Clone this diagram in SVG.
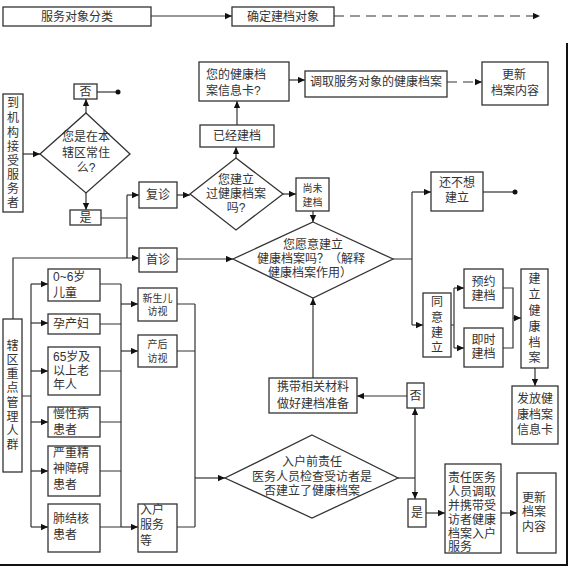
<svg xmlns="http://www.w3.org/2000/svg" width="571" height="568" viewBox="0 0 571 568">
<defs>
<marker id="ah" viewBox="0 0 10 10" refX="10" refY="5" markerWidth="7" markerHeight="7" markerUnits="userSpaceOnUse" orient="auto"><path d="M0,0.5 L10,5 L0,9.5 z" fill="#111"/></marker>
<style>
.b{fill:#fff;stroke:#333;stroke-width:1.3}
.t{font-family:"Liberation Sans","Noto Sans CJK SC",sans-serif;font-size:12px;fill:#333}
.s{font-size:10px}
.m{text-anchor:middle}
.c{fill:none;stroke:#333;stroke-width:1.2}
.a{marker-end:url(#ah)}
.d{stroke-dasharray:10 6}
</style>
</defs>
<rect width="571" height="568" fill="#fff"/>
<g id="frame"><path d="M567,43 V565 H0" fill="none" stroke="#111" stroke-width="2"/></g>
<g id="connectors">
<path class="c a" d="M151,16 H232"/>
<path class="c a d" d="M334,16 H540"/>
<path class="c a" d="M289,80 H305"/>
<path class="c a d" d="M447,82 H482"/>
<path class="c a" d="M237,125 V101"/>
<path class="c a" d="M236,158 V147"/>
<path class="c" d="M97,92 H118"/>
<circle cx="118" cy="92" r="2.5" fill="#111"/>
<path class="c a" d="M86,113 V99"/>
<path class="c a" d="M23,154 H40"/>
<path class="c a" d="M86,193 V210"/>
<path class="c" d="M101,218 H127 M127,195 V258"/>
<path class="c a" d="M127,195 H139"/>
<path class="c a" d="M13,319 V258 H139"/>
<path class="c a" d="M177,195 H190"/>
<path class="c a" d="M283,194 H296"/>
<path class="c a" d="M313,211 V222"/>
<path class="c a" d="M177,259 H233"/>
<path class="c" d="M393,259 H412 M412,192 V325"/>
<path class="c a" d="M412,192 H431"/>
<path class="c a" d="M412,325 H423"/>
<path class="c" d="M483,192 H515"/>
<circle cx="515" cy="192" r="2.5" fill="#111"/>
<path class="c" d="M451,325 H454 M454,288 V348"/>
<path class="c a" d="M454,288 H464"/>
<path class="c a" d="M454,348 H464"/>
<path class="c" d="M503,288 H513 V348 H503"/>
<path class="c a" d="M513,318 H521"/>
<path class="c a" d="M535,368 V386"/>
<path class="c a" d="M407,396 H357"/>
<path class="c a" d="M313,378 V298"/>
<path class="c" d="M398,478 H415"/>
<path class="c a" d="M415,478 V408"/>
<path class="c a" d="M415,478 V499"/>
<path class="c a" d="M426,513 H445"/>
<path class="c a" d="M501,513 H517"/>
<path class="c" d="M22,396 H31 M31,284 V527"/>
<path class="c a" d="M31,284 H48"/>
<path class="c a" d="M31,323 H48"/>
<path class="c a" d="M31,371 H48"/>
<path class="c a" d="M31,422 H48"/>
<path class="c a" d="M31,471 H48"/>
<path class="c a" d="M31,527 H48"/>
<path class="c" d="M100,284 H121 M100,324 H121 M100,371 H121 M100,422 H121 M100,471 H121 M100,527 H121 M121,284 V527"/>
<path class="c a" d="M121,304 H138"/>
<path class="c a" d="M121,351 H138"/>
<path class="c a" d="M121,527 H138"/>
<path class="c" d="M177,304 H195 M177,351 H195 M177,527 H195 M195,304 V527"/>
<path class="c a" d="M195,478 H225"/>
</g>
<g id="n_classify"><rect class="b" x="3" y="7" width="148" height="19"/><text class="t m" x="77" y="21">服务对象分类</text></g>
<g id="n_target"><rect class="b" x="232" y="7" width="102" height="19"/><text class="t m" x="283" y="21">确定建档对象</text></g>
<g id="n_card"><rect class="b" x="199" y="62" width="90" height="39"/><text class="t" x="206" y="79">您的健康档</text><text class="t" x="206" y="95">案信息卡?</text></g>
<g id="n_fetch"><rect class="b" x="305" y="71" width="142" height="26"/><text class="t m" x="376" y="86">调取服务对象的健康档案</text></g>
<g id="n_update1"><rect class="b" x="482" y="62" width="66" height="43"/><text class="t m" x="514" y="79">更新</text><text class="t m" x="515" y="95">档案内容</text></g>
<g id="n_no1"><rect class="b" x="74" y="84" width="23" height="15"/><text class="t m" x="85.5" y="96">否</text></g>
<g id="n_arrive"><rect class="b" x="3" y="94" width="20" height="118"/>
<text class="t m" x="13" y="107">到</text><text class="t m" x="13" y="122">机</text><text class="t m" x="13" y="137">构</text><text class="t m" x="13" y="151">接</text><text class="t m" x="13" y="165">受</text><text class="t m" x="13" y="179">服</text><text class="t m" x="13" y="193">务</text><text class="t m" x="13" y="207">者</text></g>
<g id="d_resident"><polygon class="b" points="86,113 130,154 86,193 40,154"/><text class="t m" x="86" y="141">您是在本</text><text class="t m" x="86" y="157">辖区常住</text><text class="t m" x="86" y="172">么?</text></g>
<g id="n_yes1"><rect class="b" x="70" y="210" width="31" height="15"/><text class="t m" x="85.5" y="222">是</text></g>
<g id="n_revisit"><rect class="b" x="139" y="182" width="38" height="26"/><text class="t m" x="158" y="199">复诊</text></g>
<g id="n_first"><rect class="b" x="139" y="248" width="38" height="24"/><text class="t m" x="158" y="264">首诊</text></g>
<g id="n_existed"><rect class="b" x="200" y="125" width="74" height="22"/><text class="t m" x="237" y="140">已经建档</text></g>
<g id="d_has"><polygon class="b" points="236,158 283,194 236,230 190,194"/><text class="t m" x="236" y="184">您建立</text><text class="t m" x="236" y="198">过健康档案</text><text class="t m" x="236" y="212">吗?</text></g>
<g id="n_notyet"><rect class="b" x="296" y="178" width="33" height="33"/><text class="t s m" x="312.5" y="192">尚未</text><text class="t s m" x="312.5" y="206">建档</text></g>
<g id="d_willing"><polygon class="b" points="313,222 393,259 313,298 233,259"/><text class="t m" x="313" y="249">您愿意建立</text><text class="t m" x="311" y="263">健康档案吗？（解释</text><text class="t m" x="310" y="277">健康档案作用）</text></g>
<g id="n_notwant"><rect class="b" x="431" y="172" width="52" height="39"/><text class="t m" x="457" y="187">还不想</text><text class="t m" x="457" y="202">建立</text></g>
<g id="n_agree"><rect class="b" x="423" y="293" width="28" height="64"/><text class="t m" x="437" y="306">同</text><text class="t m" x="437" y="322">意</text><text class="t m" x="437" y="337">建</text><text class="t m" x="437" y="352">立</text></g>
<g id="n_appoint"><rect class="b" x="464" y="269" width="39" height="39"/><text class="t m" x="483.5" y="286">预约</text><text class="t m" x="483.5" y="300">建档</text></g>
<g id="n_now"><rect class="b" x="464" y="328" width="39" height="39"/><text class="t m" x="483.5" y="344">即时</text><text class="t m" x="483.5" y="358">建档</text></g>
<g id="n_build"><rect class="b" x="521" y="269" width="27" height="99"/><text class="t m" x="534.5" y="283">建</text><text class="t m" x="534.5" y="299">立</text><text class="t m" x="534.5" y="315">健</text><text class="t m" x="534.5" y="331">康</text><text class="t m" x="534.5" y="347">档</text><text class="t m" x="534.5" y="362">案</text></g>
<g id="n_issue"><rect class="b" x="512" y="386" width="46" height="58"/><text class="t m" x="535" y="403">发放健</text><text class="t m" x="535" y="419">康档案</text><text class="t m" x="535" y="434">信息卡</text></g>
<g id="n_no2"><rect class="b" x="407" y="383" width="17" height="25"/><text class="t m" x="415.5" y="400">否</text></g>
<g id="n_prepare"><rect class="b" x="269" y="378" width="88" height="35"/><text class="t m" x="313" y="391">携带相关材料</text><text class="t m" x="313" y="408">做好建档准备</text></g>
<g id="d_check"><polygon class="b" points="312,435 398,478 312,518 225,478"/><text class="t m" x="312" y="466">入户前责任</text><text class="t m" x="312" y="481">医务人员检查受访者是</text><text class="t m" x="312" y="495">否建立了健康档案</text></g>
<g id="n_yes2"><rect class="b" x="408" y="499" width="18" height="28"/><text class="t m" x="417" y="517">是</text></g>
<g id="n_visitfetch"><rect class="b" x="445" y="464" width="56" height="89"/><text class="t" x="448" y="482">责任医务</text><text class="t" x="448" y="496">人员调取</text><text class="t" x="448" y="510">并携带受</text><text class="t" x="448" y="524">访者健康</text><text class="t" x="448" y="538">档案入户</text><text class="t" x="448" y="551">服务</text></g>
<g id="n_update2"><rect class="b" x="517" y="473" width="39" height="80"/><text class="t" x="522" y="502">更新</text><text class="t" x="522" y="516">档案</text><text class="t" x="522" y="531">内容</text></g>
<g id="n_keygroup"><rect class="b" x="3" y="319" width="19" height="153"/>
<text class="t m" x="12.5" y="350">辖</text><text class="t m" x="12.5" y="364">区</text><text class="t m" x="12.5" y="378">重</text><text class="t m" x="12.5" y="392">点</text><text class="t m" x="12.5" y="407">管</text><text class="t m" x="12.5" y="421">理</text><text class="t m" x="12.5" y="435">人</text><text class="t m" x="12.5" y="449">群</text></g>
<g id="n_child"><rect class="b" x="48" y="269" width="52" height="32"/><text class="t" x="53" y="281">0~6岁</text><text class="t" x="53" y="297">儿童</text></g>
<g id="n_maternal"><rect class="b" x="48" y="314" width="52" height="20"/><text class="t" x="53" y="328">孕产妇</text></g>
<g id="n_elderly"><rect class="b" x="48" y="347" width="52" height="48"/><text class="t" x="53" y="361">65岁及</text><text class="t" x="53" y="375">以上老</text><text class="t" x="53" y="389">年人</text></g>
<g id="n_chronic"><rect class="b" x="48" y="407" width="52" height="30"/><text class="t" x="53" y="418">慢性病</text><text class="t" x="53" y="434">患者</text></g>
<g id="n_mental"><rect class="b" x="48" y="446" width="52" height="50"/><text class="t" x="53" y="457">严重精</text><text class="t" x="53" y="473">神障碍</text><text class="t" x="53" y="489">患者</text></g>
<g id="n_tb"><rect class="b" x="48" y="504" width="52" height="48"/><text class="t" x="53" y="523">肺结核</text><text class="t" x="53" y="539">患者</text></g>
<g id="n_newborn"><rect class="b" x="138" y="288" width="39" height="33"/><text class="t s m" x="157.5" y="302">新生儿</text><text class="t s m" x="157.5" y="315">访视</text></g>
<g id="n_postnatal"><rect class="b" x="138" y="335" width="39" height="32"/><text class="t s m" x="157.5" y="348">产后</text><text class="t s m" x="157.5" y="362">访视</text></g>
<g id="n_homevisit"><rect class="b" x="138" y="504" width="39" height="48"/><text class="t" x="140" y="514">入户</text><text class="t" x="140" y="529">服务</text><text class="t" x="140" y="545">等</text></g>
</svg>
